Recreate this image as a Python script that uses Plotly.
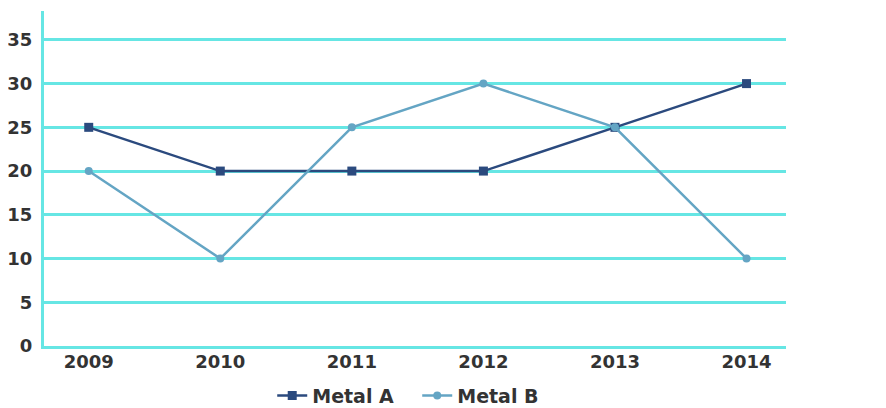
import plotly.graph_objects as go

years = ["2009", "2010", "2011", "2012", "2013", "2014"]
metal_a = [25, 20, 20, 20, 25, 30]
metal_b = [20, 10, 25, 30, 25, 10]
y_ticks = [0, 5, 10, 15, 20, 25, 30, 35]

x_idx = list(range(len(years)))

fig = go.Figure()
fig.add_trace(go.Scatter(
    x=x_idx, y=metal_a, name="Metal A", mode="lines+markers",
    line=dict(color="#2b4a7e", width=2.5),
    marker=dict(symbol="square", size=9, color="#2b4a7e"),
))
fig.add_trace(go.Scatter(
    x=x_idx, y=metal_b, name="Metal B", mode="lines+markers",
    line=dict(color="#64a5c4", width=2.5),
    marker=dict(symbol="circle", size=8, color="#64a5c4"),
))

grid_color = "#66e6e4"
tick_font = dict(family="DejaVu Sans, sans-serif", size=18, weight="bold", color="#333333")
fig.update_layout(
    width=886, height=408,
    margin=dict(l=36, r=108, t=3, b=70),
    plot_bgcolor="white", paper_bgcolor="white",
    font=dict(family="DejaVu Sans, sans-serif", color="#333333"),
    showlegend=True,
    legend=dict(orientation="h", x=0.503, xanchor="center",
                yref="container", y=0.05, yanchor="middle",
                itemwidth=30, entrywidth=100,
                font=dict(family="DejaVu Sans, sans-serif", size=19, weight="bold", color="#333333")),
    xaxis=dict(
        range=[-0.34, 5.3], tickvals=x_idx, ticktext=years,
        showgrid=False, zeroline=False, automargin=False,
        showline=True, linecolor=grid_color, linewidth=3,
        tickfont=tick_font,
        ticks="", ticklabelstandoff=-3,
    ),
    yaxis=dict(
        range=[0, 38.3], tickvals=y_ticks,
        showgrid=True, gridcolor=grid_color, gridwidth=2.5,
        zeroline=False, automargin=False,
        showline=True, linecolor=grid_color, linewidth=3,
        tickfont=tick_font,
        ticks="", ticklabelstandoff=5,
    ),
)

fig.write_html("out.html")
